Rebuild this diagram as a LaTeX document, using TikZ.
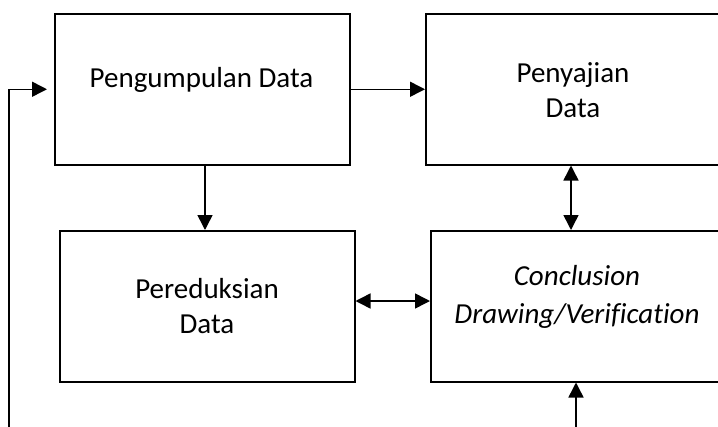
\documentclass[tikz,border=0pt]{standalone}
\usepackage{fontspec}
\setmainfont{Carlito}[Ligatures=NoCommon]
\usetikzlibrary{arrows.meta}
\begin{document}
\begin{tikzpicture}[x=1pt,y=-1pt,
  box/.style={draw,line width=1.5pt,inner sep=0pt,anchor=north west},
  txt/.style={anchor=base,inner sep=0pt,font=\fontsize{29}{35}\selectfont},
  arr/.style={line width=1.5pt,-{Triangle[length=15pt,width=15pt]}},
  darr/.style={line width=1.5pt,{Triangle[length=15pt,width=15pt]}-{Triangle[length=15pt,width=15pt]}}]
\useasboundingbox (0,0) rectangle (718,426);
\clip (0,0) rectangle (718,426);
\node[box,minimum width=295pt,minimum height=151pt] (b1) at (54,13) {};
\node[box,minimum width=296pt,minimum height=151pt] (b2) at (425,13) {};
\node[box,minimum width=295pt,minimum height=151pt] (b3) at (59,230) {};
\node[box,minimum width=295pt,minimum height=151pt] (b4) at (430,230) {};
\node[txt] (t1) at (201.5,87) {Pengumpulan Data};
\node[txt] (t2a) at (573,82) {Penyajian};
\node[txt] (t2b) at (573,117) {Data};
\node[txt] (t3a) at (207,298) {Pereduksian};
\node[txt] (t3b) at (207,333) {Data};
\node[txt] (t4a) at (577,285) {\itshape Conclusion};
\node[txt] (t4b) at (577,323) {\itshape Drawing/Verification};
\coordinate (fb) at (9,430);
\coordinate (xa) at (205,0);
\coordinate (xb) at (571,0);
\coordinate (xc) at (576,430);
\coordinate (yh) at (0,301);
\draw[arr,shorten >=7pt] (fb) |- (b1.west);
\draw[arr] (b1.east) -- (b2.west);
\draw[arr] (b1.south -| xa) -- (b3.north -| xa);
\draw[darr] (b2.south -| xb) -- (b4.north -| xb);
\draw[darr] (b3.east |- yh) -- (b4.west |- yh);
\draw[arr] (xc) -- (b4.south -| xc);
\end{tikzpicture}
\end{document}
